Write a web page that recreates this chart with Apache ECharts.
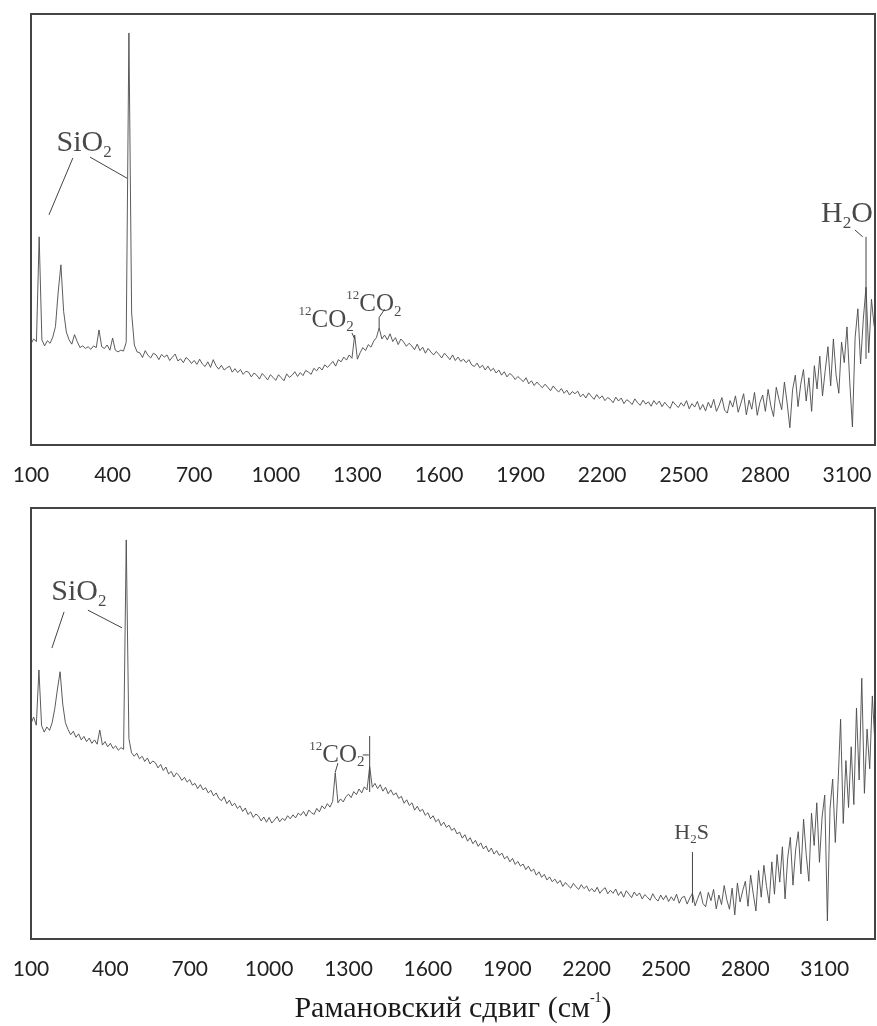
<!DOCTYPE html>
<html><head><meta charset="utf-8">
<script src="https://cdn.jsdelivr.net/npm/echarts@6/dist/echarts.min.js"></script>
<style>html,body{margin:0;padding:0;background:#fff}#c{width:877px;height:1026px}</style>
</head><body><div id="c"></div>
<script>
// Raman shift grid (cm^-1)
const SHIFT_START = 100;
const SHIFT_STEP = 10;
const tickLabels = [100, 400, 700, 1000, 1300, 1600, 1900, 2200, 2500, 2800, 3100];

// Upper spectrum intensities (arb. units), 100..3200 cm-1
const topIntensity = [
  23.5, 24.6, 24.0, 48.3, 24.4, 23.0, 24.2, 23.6, 25.0, 27.5,
  35.5, 41.8, 31.0, 26.2, 24.4, 23.4, 25.6, 24.0, 22.6, 23.0,
  22.4, 22.8, 22.2, 23.0, 22.6, 26.7, 22.8, 22.4, 23.2, 22.0,
  24.8, 22.0, 21.6, 22.0, 21.8, 23.8, 95.6, 30.6, 23.2, 21.6,
  21.4, 20.3, 21.9, 20.8, 20.2, 21.3, 20.9, 19.8, 21.0, 20.4,
  20.9, 19.6, 20.4, 21.1, 19.5, 20.0, 19.1, 20.3, 19.8, 18.9,
  19.6, 18.7, 19.9, 18.8, 18.2, 19.3, 18.0, 19.8, 18.4, 17.6,
  18.5, 17.4, 17.9, 18.3, 16.9, 17.7, 16.8, 17.5, 16.4, 17.1,
  16.9, 15.8, 16.7, 16.2, 15.3, 16.6, 15.9, 15.1, 16.3, 15.7,
  15.0, 16.3, 15.6, 14.9, 16.5, 15.7, 16.2, 17.0, 15.9, 16.8,
  16.1, 17.3, 16.9, 16.4, 17.8, 17.2, 18.1, 17.4, 18.6, 18.0,
  18.7, 19.4, 18.3, 19.8, 19.3, 20.4, 19.7, 20.9, 20.1, 25.5,
  19.9, 21.4, 22.6, 21.9, 23.3, 22.7, 24.1, 24.9, 27.2, 24.6,
  25.5, 24.4, 25.8, 24.0, 24.9, 23.3, 24.6, 23.9, 22.9, 23.6,
  23.0, 22.1, 23.4, 21.9, 22.7, 21.3, 22.4, 21.6, 20.9, 21.7,
  21.0, 20.2, 21.3, 20.6, 19.8, 20.9, 19.6, 20.4, 19.4, 19.9,
  19.1, 19.8, 18.6, 18.2, 19.0, 17.9, 18.5, 17.4, 18.3, 17.2,
  17.8, 16.7, 17.4, 16.2, 17.0, 15.8, 16.6, 16.1, 15.2, 15.9,
  15.3, 14.7, 15.6, 14.2, 14.9, 13.8, 14.6, 13.9, 13.3, 14.1,
  13.4, 12.6, 13.7, 12.9, 12.3, 13.1, 12.0, 12.7, 11.6, 12.4,
  11.9, 12.5, 11.2, 11.8, 10.9, 12.1, 11.3, 10.6, 11.7, 10.8,
  11.4, 10.3, 11.0, 10.6, 9.8, 11.1, 10.2, 10.9, 9.6, 10.5,
  10.1, 9.4, 10.7, 9.8, 9.2, 10.4, 9.5, 10.0, 9.0, 10.3,
  9.4, 10.2, 8.9, 9.9, 9.1, 8.5, 10.1, 9.3, 8.7, 9.8,
  9.0, 10.3, 8.4, 9.6, 8.8, 10.1, 8.2, 9.4, 7.9, 9.9,
  8.6, 10.6, 7.8, 9.2, 11.0, 8.1, 7.4, 10.3, 8.8, 11.4,
  7.6, 9.7, 11.9, 7.0, 10.4, 8.3, 12.2, 6.9, 9.9, 11.6,
  7.8, 12.9, 9.1, 6.6, 13.4, 10.6, 8.2, 14.6, 9.7, 4.0,
  12.8, 16.2, 8.9, 14.1, 17.5, 10.2, 15.6, 7.8, 18.4, 13.0,
  20.6, 11.4, 17.3, 22.8, 13.7, 24.6, 16.2, 12.0, 23.9, 19.1,
  27.4, 14.8, 4.2, 25.0, 31.6, 18.8, 29.2, 36.6, 21.4, 33.8,
  27.5
];

// Lower spectrum intensities (arb. units), 100..3290 cm-1
const bottomIntensity = [
  50.0, 51.5, 49.6, 62.4, 49.5, 48.0, 49.2, 48.4, 50.2, 53.5,
  58.0, 62.0, 54.5, 50.2, 48.6, 47.4, 48.2, 46.8, 47.6, 46.2,
  47.0, 45.8, 46.6, 45.4, 46.2, 45.2, 48.5, 45.0, 45.8, 44.6,
  45.4, 44.2, 44.8, 43.8, 44.4, 44.0, 92.6, 46.5, 43.2, 42.4,
  43.1, 41.8, 42.4, 41.2, 42.0, 40.6, 41.3, 40.9, 39.7, 40.5,
  39.1, 39.9, 38.3, 38.9, 37.6, 38.5, 37.9, 36.8, 37.5, 36.4,
  37.0, 35.7, 36.1, 34.9, 35.8, 34.6, 35.1, 33.9, 34.5, 33.2,
  33.9, 32.6, 32.1, 33.0, 31.4, 32.2, 30.9, 31.5, 30.3, 30.9,
  29.6, 30.4, 28.9, 29.5, 28.2, 29.0, 28.5, 27.4, 28.3, 27.1,
  28.2, 26.9, 27.6, 28.4, 27.2, 28.0, 27.5, 28.6, 27.9, 28.8,
  28.1, 29.2, 28.7, 29.6, 28.5, 29.9, 29.3, 28.9, 30.3, 29.5,
  30.9, 30.2, 31.4, 30.6, 31.9, 38.6, 31.6, 32.5, 31.8, 33.0,
  33.6, 32.8, 34.2, 33.5, 34.8, 33.9, 35.3, 34.6, 40.0, 35.2,
  36.1, 34.9, 35.8, 34.3, 35.2, 33.7, 34.6, 33.4, 33.9, 32.6,
  33.1, 31.5, 32.3, 31.0, 31.6, 29.9, 30.8, 29.6, 30.1, 28.7,
  29.3, 27.9, 28.6, 27.2, 27.8, 26.3, 27.1, 25.9, 26.4, 25.2,
  25.7, 24.4, 24.8, 23.4, 24.2, 22.7, 23.5, 22.1, 22.9, 21.5,
  22.3, 20.9, 21.6, 20.2, 21.1, 19.7, 20.5, 19.4, 19.9, 18.6,
  19.2, 17.9, 18.7, 17.3, 18.0, 16.9, 17.4, 16.1, 16.9, 15.7,
  16.2, 14.8, 15.6, 14.3, 15.0, 13.7, 14.4, 13.3, 13.9, 12.9,
  13.6, 12.2, 13.1, 12.4, 11.8, 12.9, 12.1, 11.5, 12.6, 11.7,
  12.3, 11.1, 11.7, 10.9, 12.0, 10.6, 11.4, 11.9, 10.5, 11.3,
  10.6, 11.6, 10.1, 11.0, 9.7, 11.2, 10.4, 9.6, 10.9, 10.0,
  10.7, 9.3, 10.3, 9.7, 9.0, 10.5, 9.4, 8.8, 10.2, 9.1,
  10.1, 8.7, 9.8, 8.9, 10.4, 8.3, 9.6, 9.9, 8.1, 9.5,
  10.6, 7.7, 9.4, 11.0, 8.2, 7.5, 10.8, 8.9, 11.5, 7.0,
  10.2, 8.0, 12.4, 9.1, 6.9, 11.8, 5.6, 13.0, 8.6, 11.2,
  13.4, 7.6, 14.8, 10.4, 6.5, 15.9, 9.7, 17.1, 12.2, 8.3,
  17.9, 10.4, 19.6, 13.2, 21.4, 9.3, 18.8, 23.6, 12.5, 20.7,
  24.9, 15.1, 27.8, 19.6, 13.4, 29.2, 21.7, 31.6, 17.8, 28.3,
  33.4, 4.2, 30.2, 37.1, 22.4, 35.6, 51.0, 26.8, 41.4, 30.5,
  44.6, 31.2, 53.6, 36.9, 60.5, 33.8, 48.7, 39.5, 56.4, 45.0
];

// Peak annotations: [text (rich), shift, intensity]
const topNotes = [
  ['{m|SiO}{s|2}', 295, 70.0],
  ['{p|12}{c|CO}{q|2}', 1185, 29.0],
  ['{p|12}{c|CO}{q|2}', 1361, 32.7],
  ['{m|H}{s|2}{m|O}', 3100, 53.6]
];
const bottomNotes = [
  ['{m|SiO}{s|2}', 281, 80.5],
  ['{p|12}{c|CO}{q|2}', 1256, 42.7],
  ['{h|H}{hs|2}{h|S}', 2597, 24.6]
];
// Leader lines: [[shift1, int1], [shift2, int2]]
const topLeaders = [
  [[254, 66.6], [166, 53.4]],
  [[317, 66.8], [453, 61.9]],
  [[1280, 26.0], [1290, 24.6]],
  [[1400, 31.5], [1380, 29.6]],
  [[1380, 29.6], [1380, 27.2]],
  [[3129, 49.9], [3158, 48.3]],
  [[3170, 48.3], [3170, 20.0]]
];
const bottomLeaders = [
  [[225, 75.9], [179, 67.5]],
  [[315, 76.3], [444, 72.2]],
  [[1260, 40.8], [1250, 38.7]],
  [[1354, 42.7], [1377, 42.7]],
  [[1380, 47.1], [1380, 34.1]],
  [[2600, 20.2], [2600, 8.4]]
];

const SERIF = '"Liberation Serif", "DejaVu Serif", serif';
const INK = '#1a1a1a';
const richStyles = {
  m: { fontSize: 30, fontFamily: SERIF, color: INK, lineHeight: 36 },
  s: { fontSize: 17, fontFamily: SERIF, color: INK, lineHeight: 16, verticalAlign: 'bottom' },
  c: { fontSize: 25, fontFamily: SERIF, color: INK, lineHeight: 30 },
  p: { fontSize: 13, fontFamily: SERIF, color: INK, lineHeight: 14, verticalAlign: 'top' },
  q: { fontSize: 15, fontFamily: SERIF, color: INK, lineHeight: 13, verticalAlign: 'bottom' },
  h: { fontSize: 22, fontFamily: SERIF, color: INK, lineHeight: 26 },
  hs: { fontSize: 13, fontFamily: SERIF, color: INK, lineHeight: 11, verticalAlign: 'bottom' }
};

function toPairs(vals) {
  return vals.map((v, i) => [SHIFT_START + i * SHIFT_STEP, v]);
}

const series = [];
function addSpectrum(vals, idx) {
  series.push({
    type: 'line', xAxisIndex: idx, yAxisIndex: idx, data: toPairs(vals),
    symbol: 'none', silent: true, animation: false,
    lineStyle: { color: '#4a4a4a', width: 0.9 }
  });
}
function addLeaders(list, idx) {
  list.forEach(seg => series.push({
    type: 'line', xAxisIndex: idx, yAxisIndex: idx, data: seg,
    symbol: 'none', silent: true, animation: false, z: 3,
    lineStyle: { color: '#444', width: 1 }
  }));
}
function addNotes(list, idx) {
  series.push({
    type: 'scatter', xAxisIndex: idx, yAxisIndex: idx, symbolSize: 0,
    silent: true, animation: false, z: 4,
    data: list.map(n => ({ value: [n[1], n[2]], label: { formatter: n[0] } })),
    label: { show: true, position: 'inside', rich: richStyles }
  });
}
addSpectrum(topIntensity, 0);
addSpectrum(bottomIntensity, 1);
addLeaders(topLeaders, 0);
addLeaders(bottomLeaders, 1);
addNotes(topNotes, 0);
addNotes(bottomNotes, 1);

const tickLabelStyle = {
  customValues: tickLabels, fontFamily: 'Lato, "Open Sans", sans-serif',
  fontSize: 21, color: '#222', margin: 20,
  formatter: v => String(v)
};
function xAxis(idx, max, extra) {
  return Object.assign({
    type: 'value', gridIndex: idx, min: SHIFT_START, max: max,
    axisLine: { show: false }, axisTick: { show: false }, splitLine: { show: false },
    axisLabel: tickLabelStyle
  }, extra || {});
}
function yAxis(idx) {
  return { type: 'value', gridIndex: idx, min: 0, max: 100, show: false, splitLine: { show: false } };
}

const chart = echarts.init(document.getElementById('c'), null, { renderer: 'canvas' });
chart.setOption({
  animation: false,
  backgroundColor: '#fff',
  grid: [
    { left: 31, top: 14, width: 844, height: 431, show: true, borderColor: '#444', borderWidth: 2 },
    { left: 31, top: 508, width: 844, height: 431, show: true, borderColor: '#444', borderWidth: 2 }
  ],
  xAxis: [
    xAxis(0, 3203),
    xAxis(1, 3290, {
      name: '{t|Рамановский сдвиг (см}{u|-1}{t|)}',
      nameLocation: 'middle', nameGap: 52,
      nameTextStyle: {
        rich: {
          t: { fontSize: 30, fontFamily: SERIF, color: INK, lineHeight: 36 },
          u: { fontSize: 14, fontFamily: SERIF, color: INK, lineHeight: 14, verticalAlign: 'top' }
        }
      }
    })
  ],
  yAxis: [yAxis(0), yAxis(1)],
  series: series
});
</script>
</body></html>
